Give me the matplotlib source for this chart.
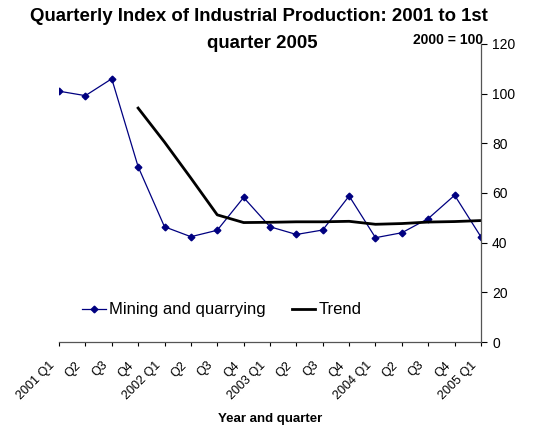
import matplotlib
matplotlib.use("Agg")
import matplotlib.pyplot as plt
import matplotlib.transforms as mtransforms
import numpy as np

plt.rcParams['font.family'] = ['Liberation Sans', 'DejaVu Sans']

quarters = ["2001 Q1", "Q2", "Q3", "Q4", "2002 Q1", "Q2", "Q3", "Q4",
            "2003 Q1", "Q2", "Q3", "Q4", "2004 Q1", "Q2", "Q3", "Q4", "2005 Q1"]
mining = [101.0, 99.2, 106.0, 70.6, 46.4, 42.4, 45.0, 58.2,
          46.4, 43.3, 45.1, 58.8, 42.0, 44.0, 49.7, 59.1, 42.3]
trend = [np.nan, np.nan, np.nan, 94.2, 80.5, 66.0, 51.2, 48.1,
         48.2, 48.4, 48.4, 48.6, 47.4, 47.7, 48.3, 48.5, 48.9]
yticks = [0, 20, 40, 60, 80, 100, 120]

W, H = 538, 430
fig = plt.figure(figsize=(W/100, H/100), dpi=100)
ax = fig.add_axes([59/W, (H-342)/H, (481-59)/W, (342-44)/H])

x = np.arange(len(quarters))
ax.plot(x, mining, color='#000080', lw=0.9, marker='D', markersize=3.4,
        label='Mining and quarrying')
ax.plot(x, trend, color='black', lw=2.0, label='Trend')

ax.set_xlim(0, len(quarters) - 1)
ax.set_ylim(0, 120)
ax.set_yticks(yticks)
ax.yaxis.tick_right()
ax.tick_params(axis='y', direction='out', length=4, width=0.8, labelsize=10, pad=4, colors='black')
ax.set_xticks(x)
ax.set_xticklabels(quarters, rotation=45, ha='right', va='baseline', rotation_mode='anchor', fontsize=9)
ax.tick_params(axis='x', direction='out', length=3, width=0.8, pad=14)
offset = mtransforms.ScaledTranslation(-4/100, 0, fig.dpi_scale_trans)
for lab in ax.get_xticklabels():
    lab.set_transform(lab.get_transform() + offset)

for s in ['top', 'left']:
    ax.spines[s].set_visible(False)
for s in ['right', 'bottom']:
    ax.spines[s].set_color('#555555')
    ax.spines[s].set_linewidth(0.9)

ax.set_xlabel('Year and quarter', fontsize=9.5, fontweight='bold', labelpad=8)

fig.text(258.5/W, 1 - 21/H, 'Quarterly Index of Industrial Production: 2001 to 1st',
         ha='center', va='baseline', fontsize=13.4, fontweight='bold')
fig.text(262.5/W, 1 - 48/H, 'quarter 2005',
         ha='center', va='baseline', fontsize=13.4, fontweight='bold')
fig.text(483/W, 1 - 40.5/H, '2000 = 100', ha='right', va='center', fontsize=10, fontweight='bold')

fig.legend(loc='center', bbox_to_anchor=(222/W, 1 - 310/H), ncol=2, frameon=False,
           fontsize=12, handlelength=1.4, handletextpad=0.2, columnspacing=1.6)

fig.savefig('out.png', dpi=100)
